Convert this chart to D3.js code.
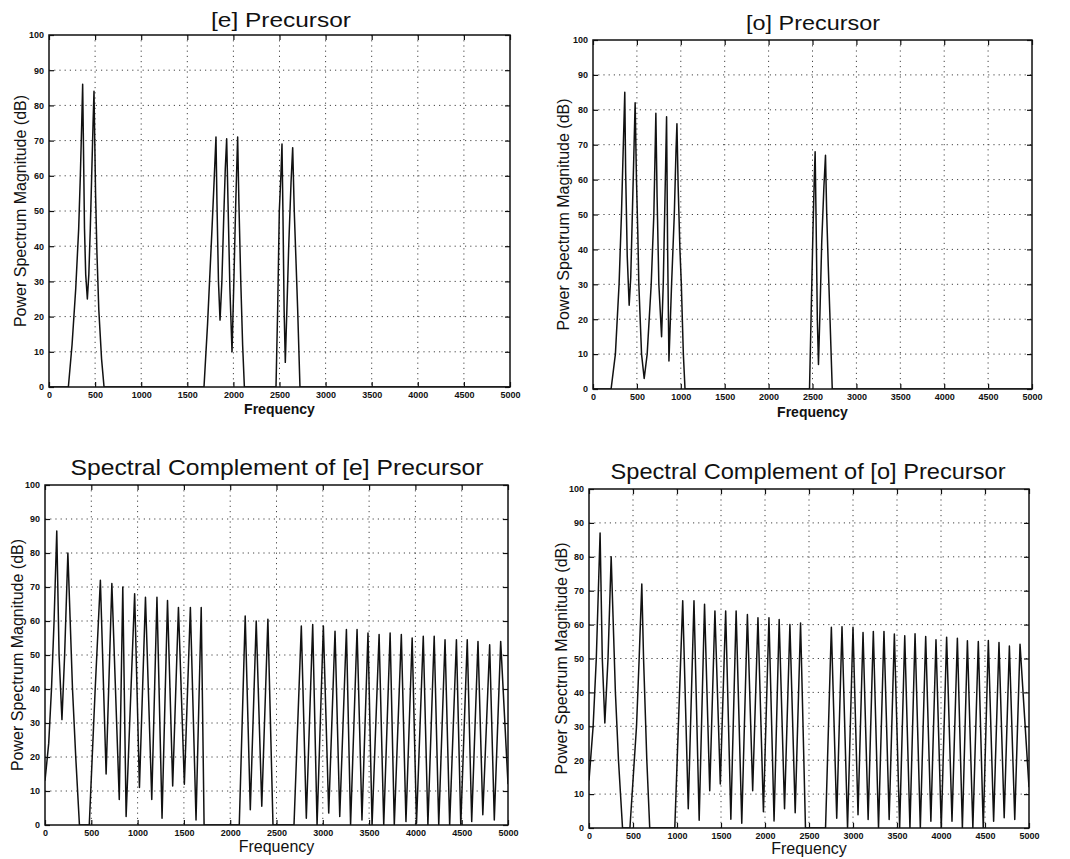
<!DOCTYPE html>
<html>
<head>
<meta charset="utf-8">
<script src="https://cdnjs.cloudflare.com/ajax/libs/d3/7.8.5/d3.min.js"></script>
<style>
  body { margin: 0; background: #fff; }
  svg { display: block; }
  text { font-family: 'Liberation Sans', Arial, sans-serif; fill: #111; }
  .tick-label { font-size: 9px; font-weight: bold; }
</style>
</head>
<body>
<div id="chart"></div>
<script>
// tick values shared by all four panels
var xTicks = [0, 500, 1000, 1500, 2000, 2500, 3000, 3500, 4000, 4500, 5000];
var yTicks = [0, 10, 20, 30, 40, 50, 60, 70, 80, 90, 100];

// [frequency, dB] pairs
var ePrecursor = [
  [0, 0], [210, 0], [250, 12], [290, 28], [322, 45], [340, 60], [355, 75], [365, 86],
  [372, 72], [385, 45], [398, 32], [416, 25], [432, 32], [448, 45], [465, 62], [478, 75],
  [488, 84], [495, 72], [505, 55], [520, 38], [540, 22], [570, 8], [597, 0],
  [1681, 0], [1720, 18], [1768, 45], [1790, 58], [1811, 71], [1822, 52], [1838, 30],
  [1855, 19], [1875, 30], [1895, 48], [1912, 62], [1927, 70.5], [1942, 52], [1962, 28],
  [1985, 10], [2005, 30], [2025, 52], [2046, 71], [2060, 52], [2080, 30], [2100, 12],
  [2119, 0], [2462, 0], [2480, 22], [2498, 50], [2515, 60], [2527, 69], [2537, 50],
  [2550, 22], [2563, 7], [2580, 22], [2600, 40], [2625, 58], [2643, 68], [2660, 50],
  [2680, 35], [2697, 22], [2722, 0], [5000, 0]
];

var oPrecursor = [
  [0, 0], [206, 0], [255, 10], [297, 30], [324, 50], [340, 65], [362, 85], [372, 62],
  [390, 38], [412, 24], [430, 32], [450, 52], [468, 70], [480, 82], [495, 60], [510, 45],
  [522, 30], [553, 10], [583, 3], [617, 10], [663, 30], [693, 50], [705, 65], [716, 79],
  [730, 55], [750, 30], [781, 15], [800, 30], [820, 55], [838, 78], [850, 40], [865, 8],
  [895, 30], [926, 50], [945, 68], [956, 76], [970, 58], [990, 40], [1006, 30],
  [1029, 10], [1048, 0], [2466, 0], [2485, 22], [2505, 45], [2520, 60], [2530, 68],
  [2540, 50], [2555, 20], [2568, 7], [2585, 22], [2605, 42], [2630, 58], [2648, 67],
  [2662, 50], [2680, 35], [2697, 22], [2725, 0], [5000, 0]
];

var eComplement = [
  [0, 13], [40, 24], [70, 40], [98, 60], [127, 86.5], [152, 50], [183, 31], [212, 50],
  [247, 80], [297, 40], [332, 20], [372, 0], [478, 0], [542, 40], [598, 72], [660, 15],
  [722, 71], [802, 7.5], [840, 70], [876, 2.5], [968, 68], [1020, 11], [1085, 67],
  [1153, 7.5], [1209, 67], [1264, 2], [1323, 66], [1379, 11.5], [1441, 64], [1505, 12],
  [1570, 64], [1631, 1.5], [1687, 64], [1718, 0], [2098, 0], [2162, 61.5], [2217, 4.5],
  [2281, 60], [2341, 5.5], [2407, 60.5], [2462, 0], [2689, 0], [2768, 58.5], [2822, 2],
  [2891, 59], [2938, 0], [3006, 58.5], [3064, 3.5], [3132, 57], [3183, 2.5], [3255, 57.5],
  [3300, 0], [3370, 57.5], [3423, 1.5], [3488, 56.5], [3532, 0], [3608, 56], [3658, 0],
  [3727, 56.5], [3772, 0], [3848, 56], [3898, 1], [3965, 55], [4012, 0.5], [4085, 55.5],
  [4135, 0], [4203, 55.5], [4252, 0], [4320, 54.5], [4370, 0], [4443, 54.5], [4490, 0],
  [4560, 54.5], [4608, 1], [4676, 54], [4728, 3], [4802, 53], [4852, 1.5], [4921, 54],
  [5000, 12]
];

var oComplement = [
  [0, 14], [47, 30], [83, 50], [126, 87], [151, 50], [180, 31], [216, 50], [252, 80],
  [300, 40], [335, 20], [381, 0], [465, 0], [540, 30], [570, 50], [600, 72], [620, 50],
  [657, 20], [690, 0], [975, 0], [1065, 67], [1128, 5.7], [1193, 67], [1252, 2.3],
  [1313, 66], [1372, 11], [1431, 64], [1492, 13], [1553, 64], [1612, 2.6], [1672, 64],
  [1736, 1.4], [1800, 63], [1860, 11], [1920, 62], [1982, 4.8], [2045, 62], [2103, 2.1],
  [2161, 61.5], [2222, 5.7], [2283, 60], [2343, 4.5], [2404, 60.5], [2460, 0],
  [2688, 0], [2754, 59.2], [2815, 2.9], [2875, 59.4], [2938, 0], [3000, 59.2],
  [3057, 3.9], [3114, 57.7], [3172, 2.5], [3231, 58], [3290, 0], [3352, 58], [3411, 2.5],
  [3470, 57.2], [3530, 0], [3588, 56.7], [3647, 0], [3705, 57.3], [3765, 0], [3826, 56.5],
  [3885, 2], [3943, 55.5], [4003, 0], [4064, 56.3], [4125, 2], [4186, 56], [4243, 0],
  [4300, 55.2], [4362, 0], [4424, 55], [4480, 0], [4538, 55.3], [4598, 2], [4659, 54.7],
  [4718, 3], [4777, 53.7], [4838, 2.5], [4898, 54.2], [5000, 12]
];

var w = 1070;
var h = 859;

var svg = d3
  .select('#chart')
  .append('svg')
  .attr('width', w)
  .attr('height', h);

svg.append('rect').attr('width', w).attr('height', h).attr('fill', '#fff');

// panel boxes
var panels = [
  { data: ePrecursor, title: '[e] Precursor', x0: 49, x1: 510, y0: 35, y1: 387,
    tx: 281, ty: 27, tlen: 140, tsize: 21, fsize: 14, fbase: 414, ylx: 26 },
  { data: oPrecursor, title: '[o] Precursor', x0: 593, x1: 1032, y0: 40, y1: 389,
    tx: 813, ty: 30, tlen: 134, tsize: 21, fsize: 14, fbase: 417, ylx: 569 },
  { data: eComplement, title: 'Spectral Complement of [e] Precursor', x0: 45, x1: 508, y0: 485, y1: 825,
    tx: 277, ty: 475, tlen: 413, tsize: 22, fsize: 16, fbase: 852, ylx: 23 },
  { data: oComplement, title: 'Spectral Complement of [o] Precursor', x0: 589, x1: 1029, y0: 489, y1: 828,
    tx: 808, ty: 479, tlen: 395, tsize: 22, fsize: 16, fbase: 854, ylx: 567 }
];

panels.forEach(function(p, i) {
  var xscale = d3.scaleLinear().domain([0, 5000]).range([p.x0, p.x1]);
  var yscale = d3.scaleLinear().domain([0, 100]).range([p.y1, p.y0]);
  var g = svg.append('g');

  // dotted grid
  g.selectAll('.vgrid')
    .data(xTicks.slice(1, -1))
    .enter()
    .append('line')
    .attr('x1', function(d) { return xscale(d); })
    .attr('x2', function(d) { return xscale(d); })
    .attr('y1', p.y0)
    .attr('y2', p.y1)
    .attr('stroke', '#444')
    .attr('stroke-width', 1)
    .attr('stroke-dasharray', '1.2,4');

  g.selectAll('.hgrid')
    .data(yTicks.slice(1, -1))
    .enter()
    .append('line')
    .attr('x1', p.x0)
    .attr('x2', p.x1)
    .attr('y1', function(d) { return yscale(d); })
    .attr('y2', function(d) { return yscale(d); })
    .attr('stroke', '#444')
    .attr('stroke-width', 1)
    .attr('stroke-dasharray', '1.2,4');

  // spectrum trace
  g.append('clipPath')
    .attr('id', 'clip' + i)
    .append('rect')
    .attr('x', p.x0)
    .attr('y', p.y0)
    .attr('width', p.x1 - p.x0)
    .attr('height', p.y1 - p.y0);

  var line = d3
    .line()
    .x(function(d) { return xscale(d[0]); })
    .y(function(d) { return yscale(d[1]); });

  g.append('path')
    .datum(p.data)
    .attr('clip-path', 'url(#clip' + i + ')')
    .attr('d', line)
    .attr('fill', 'none')
    .attr('stroke', '#111')
    .attr('stroke-width', 1.5)
    .attr('stroke-linejoin', 'round');

  // axes, MATLAB style with inward ticks on all sides
  var fmt = d3.format('d');
  var xBottom = d3.axisBottom(xscale).tickValues(xTicks).tickFormat(fmt).tickSizeInner(-5).tickSizeOuter(0).tickPadding(5);
  var xTop = d3.axisTop(xscale).tickValues(xTicks).tickSizeInner(-5).tickSizeOuter(0).tickFormat('');
  var yLeft = d3.axisLeft(yscale).tickValues(yTicks).tickFormat(fmt).tickSizeInner(-5).tickSizeOuter(0).tickPadding(5);
  var yRight = d3.axisRight(yscale).tickValues(yTicks).tickSizeInner(-5).tickSizeOuter(0).tickFormat('');

  var axes = [
    g.append('g').attr('transform', 'translate(0,' + p.y1 + ')').call(xBottom),
    g.append('g').attr('transform', 'translate(0,' + p.y0 + ')').call(xTop),
    g.append('g').attr('transform', 'translate(' + p.x0 + ',0)').call(yLeft),
    g.append('g').attr('transform', 'translate(' + p.x1 + ',0)').call(yRight)
  ];
  axes.forEach(function(a) {
    a.select('.domain').remove();
    a.selectAll('line').attr('stroke', '#111').attr('stroke-width', 1.2);
    a.selectAll('text')
      .attr('class', 'tick-label')
      .attr('font-family', null)
      .attr('font-size', null)
      .attr('fill', '#111');
  });

  g.append('rect')
    .attr('x', p.x0)
    .attr('y', p.y0)
    .attr('width', p.x1 - p.x0)
    .attr('height', p.y1 - p.y0)
    .attr('fill', 'none')
    .attr('stroke', '#111')
    .attr('stroke-width', 1.5);

  // titles and axis labels
  g.append('text')
    .attr('x', p.tx)
    .attr('y', p.ty)
    .attr('text-anchor', 'middle')
    .attr('font-size', p.tsize)
    .attr('textLength', p.tlen)
    .attr('lengthAdjust', 'spacingAndGlyphs')
    .text(p.title);

  g.append('text')
    .attr('x', (p.x0 + p.x1) / 2)
    .attr('y', p.fbase)
    .attr('text-anchor', 'middle')
    .attr('font-size', p.fsize)
    .attr('font-weight', i < 2 ? 'bold' : 'normal')
    .text('Frequency');

  g.append('text')
    .attr('transform', 'translate(' + p.ylx + ',' + (p.y0 + p.y1) / 2 + ') rotate(-90)')
    .attr('text-anchor', 'middle')
    .attr('font-size', 16)
    .text('Power Spectrum Magnitude (dB)');
});
</script>
</body>
</html>
